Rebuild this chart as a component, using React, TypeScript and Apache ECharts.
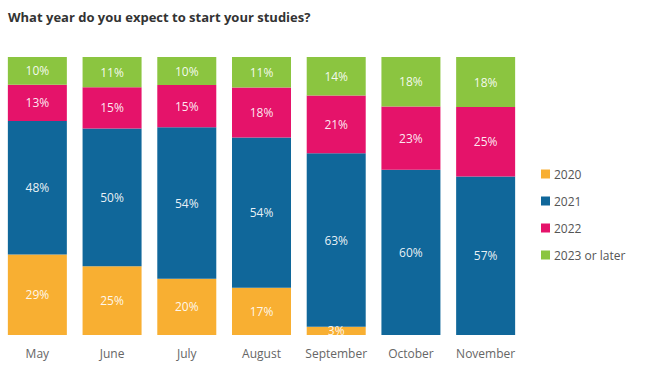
import React, { useEffect, useRef } from "react";
import * as echarts from "echarts";

const categories = ["May", "June", "July", "August", "September", "October", "November"];
const seriesNames = ["2020", "2021", "2022", "2023 or later"];
const v2020 = [29, 25, 20, 17, 3, 0, 0];
const v2021 = [48, 50, 54, 54, 63, 60, 57];
const v2022 = [13, 15, 15, 18, 21, 23, 25];
const v2023 = [10, 11, 10, 11, 14, 18, 18];
const colors = ["#F8AF32", "#10679A", "#E5136A", "#8BC540"];

export default function App() {
  const ref = useRef<HTMLDivElement>(null);
  useEffect(() => {
    if (!ref.current) return;
    const chart = echarts.init(ref.current, undefined, { renderer: "svg" });
    const raw = [v2020, v2021, v2022, v2023];
    const totals = categories.map((_, j) => raw.reduce((s, arr) => s + arr[j], 0));
    chart.setOption({
      animation: false,
      title: {
        text: "What year do you expect to start your studies?",
        left: 8,
        top: 10,
        padding: 0,
        textStyle: { fontFamily: "Open Sans", fontSize: 13, fontWeight: "bold", color: "#333" },
      },
      legend: {
        orient: "vertical",
        left: 536,
        top: 163,
        itemWidth: 9,
        itemHeight: 9,
        itemGap: 15,
        icon: "rect",
        data: seriesNames,
        textStyle: { fontFamily: "Open Sans", fontSize: 12, color: "#555", padding: [0, 0, 0, -1] },
      },
      grid: { left: 0, right: 127, top: 57, bottom: 35, containLabel: false },
      xAxis: {
        type: "category",
        data: categories,
        axisLine: { show: false },
        axisTick: { show: false },
        axisLabel: { interval: 0, fontFamily: "Open Sans", fontSize: 12, color: "#666", margin: 12 },
      },
      yAxis: { type: "value", min: 0, max: 100, show: false },
      series: seriesNames.map((name, i) => ({
        name,
        type: "bar",
        stack: "total",
        barWidth: 59,
        data: raw[i].map((v, j) => ({ value: (v / totals[j]) * 100, raw: v })),
        itemStyle: { color: colors[i] },
        label: {
          show: true,
          position: "inside",
          formatter: (p: any) => (raw[i][p.dataIndex] > 0 ? raw[i][p.dataIndex] + "%" : ""),
          color: "rgba(255,255,255,0.92)",
          fontFamily: "Open Sans",
          fontSize: 12,
        },
      })),
    });
    return () => chart.dispose();
  }, []);
  return (
    <div
      ref={ref}
      style={{ position: "absolute", left: 0, top: 0, width: 650, height: 370 }}
    />
  );
}
